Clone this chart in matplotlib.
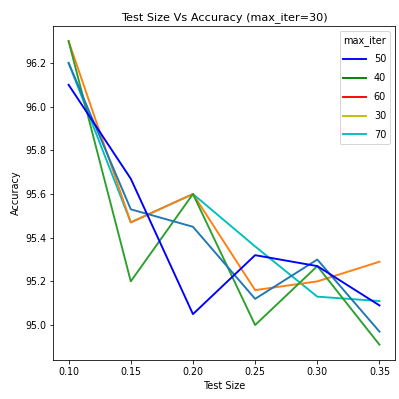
import matplotlib
matplotlib.use('Agg')
import matplotlib.pyplot as plt
from matplotlib.lines import Line2D

# tamanho do teste
test_size = [0.10, 0.15, 0.20, 0.25, 0.30, 0.35]

# acuracia por serie
acc_blue = [96.10, 95.67, 95.05, 95.32, 95.27, 95.09]
acc_green = [96.30, 95.20, 95.60, 95.00, 95.27, 94.91]
acc_orange = [96.30, 95.47, 95.60, 95.16, 95.20, 95.29]
acc_steel = [96.20, 95.53, 95.45, 95.12, 95.30, 94.97]
acc_cyan = [96.20, 95.47, 95.60, 95.36, 95.13, 95.11]

legend_labels = ['50', '40', '60', '30', '70']
legend_colors = ['b', 'g', 'r', 'y', 'c']

fig, ax = plt.subplots(figsize=(399/72, 399/72), dpi=72)
fig.subplots_adjust(left=0.133, right=0.99, bottom=0.098, top=0.935)

lw = 1.9
ax.plot(test_size, acc_cyan, color='c', linewidth=lw)
ax.plot(test_size, acc_orange, color='tab:orange', linewidth=lw)
ax.plot(test_size, acc_green, color='tab:green', linewidth=lw)
ax.plot(test_size, acc_steel, color='tab:blue', linewidth=lw)
ax.plot(test_size, acc_blue, color='b', linewidth=lw)

ax.set_xticks(test_size)
ax.set_xticklabels(['%.2f' % t for t in test_size], fontsize=9.5)
ax.set_yticks([95.0, 95.2, 95.4, 95.6, 95.8, 96.0, 96.2])
ax.set_yticklabels(['95.0', '95.2', '95.4', '95.6', '95.8', '96.0', '96.2'], fontsize=9.5)

ax.set_title('Test Size Vs Accuracy (max_iter=30)', fontsize=11.2)
ax.set_xlabel('Test Size', fontsize=9.8)
ax.set_ylabel('Accuracy', fontsize=9.8)

handles = [Line2D([0], [0], color=c, linewidth=lw) for c in legend_colors]
ax.legend(handles, legend_labels, title='max_iter', loc='upper right',
          fontsize=9.8, title_fontsize=9.8, labelspacing=0.9, handlelength=2.3)

fig.savefig('out.png', dpi=72)
